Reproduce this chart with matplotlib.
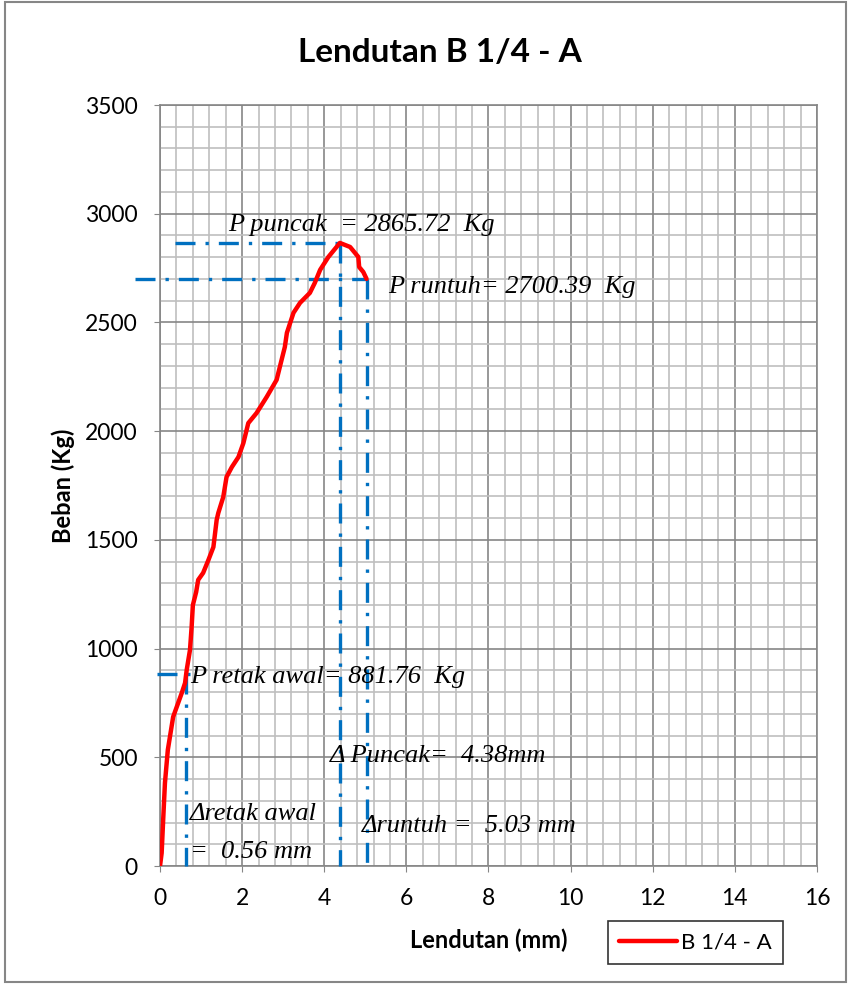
import matplotlib
matplotlib.use("Agg")
import matplotlib.pyplot as plt
from matplotlib.patches import Rectangle
from matplotlib.ticker import MultipleLocator

# data
lendutan = [0.0, 0.04, 0.08, 0.12, 0.19, 0.32, 0.53, 0.61, 0.65, 0.73, 0.77, 0.80, 0.88, 0.93,
            1.05, 1.18, 1.30, 1.38, 1.42, 1.54, 1.62, 1.75, 1.91, 2.03, 2.15, 2.35, 2.60,
            2.84, 2.96, 3.04, 3.09, 3.25, 3.41, 3.65, 3.77, 3.90, 4.10, 4.38, 4.63, 4.83,
            4.85, 4.95, 5.03]
beban = [0, 60, 225, 382, 534, 686, 796, 842, 902, 994, 1100, 1200, 1260, 1316,
         1348, 1408, 1467, 1592, 1624, 1697, 1789, 1835, 1881, 1945, 2037, 2083, 2158,
         2236, 2327, 2387, 2452, 2544, 2590, 2636, 2682, 2742, 2801, 2865.72, 2847, 2801,
         2755, 2732, 2700.39]

p_puncak = 2865.72
p_runtuh = 2700.39
p_retak = 881.76
d_puncak = 4.38
d_runtuh = 5.03
d_retak = 0.56

plt.rcParams['font.family'] = ['Lato', 'DejaVu Sans']

fig = plt.figure(figsize=(8.48, 9.85), dpi=100)
ax = fig.add_axes([0.1887, 0.1208, 0.9634 - 0.1887, 0.8934 - 0.1208])

ax.plot(lendutan, beban, color='red', lw=3.2, solid_capstyle='round',
        solid_joinstyle='round', label='B 1/4 - A', zorder=5)

# garis bantu (dash-dot biru)
biru = '#0070C0'
ds = (0, (6, 3, 1, 3))
kw = dict(color=biru, lw=2.4, linestyle=ds, zorder=4, clip_on=False)
ax.plot([0.37, d_puncak], [p_puncak, p_puncak], **kw)
ax.plot([d_puncak, d_puncak], [p_puncak, 0], **kw)
ax.plot([-0.6, d_runtuh], [p_runtuh, p_runtuh], **kw)
ax.plot([d_runtuh, d_runtuh], [p_runtuh, 0], **kw)
ax.plot([-0.07, 0.72], [p_retak, p_retak], **kw)
ax.plot([0.64, 0.64], [p_retak, 0], **kw)

tf = dict(family=['Liberation Serif', 'DejaVu Serif'], style='italic', fontsize=19, zorder=6)
ax.text(1.66, 2950, f'P puncak  = {p_puncak:.2f}  Kg', va='center', **tf)
ax.text(5.55, 2663, f'P runtuh= {p_runtuh:.2f}  Kg', va='center', **tf)
ax.text(0.73, 869, f'P retak awal= {p_retak:.2f}  Kg', va='center', **tf)
ax.text(4.14, 506, f'Δ Puncak=  {d_puncak:.2f}mm', va='center', **tf)
ax.text(0.73, 239, 'Δretak awal', va='center', **tf)
ax.text(0.73, 64, f'=  {d_retak:.2f} mm', va='center', **tf)
ax.text(4.92, 184, f'Δruntuh =  {d_runtuh:.2f} mm', va='center', **tf)

ax.set_xlim(0, 16)
ax.set_ylim(0, 3500)
ax.xaxis.set_major_locator(MultipleLocator(2))
ax.xaxis.set_minor_locator(MultipleLocator(0.4))
ax.yaxis.set_major_locator(MultipleLocator(500))
ax.yaxis.set_minor_locator(MultipleLocator(100))
ax.grid(which='major', color='#868686', lw=1.2)
ax.grid(which='minor', color='#BFBFBF', lw=1.2)
ax.set_axisbelow(True)
for s in ax.spines.values():
    s.set_color('#868686')
    s.set_linewidth(1.2)
ax.tick_params(which='major', length=4, color='#868686', labelsize=16.5)
ax.tick_params(axis='y', pad=12)
ax.tick_params(axis='x', pad=12)
ax.tick_params(which='minor', length=0)

ax.set_xlabel('Lendutan (mm)', fontsize=17, fontweight='bold', labelpad=14)
ax.set_ylabel('Beban (Kg)', fontsize=17, fontweight='bold', labelpad=7)
fig.text(0.519, 0.947, 'Lendutan B 1/4 - A', ha='center', va='center',
         fontsize=24, fontweight='bold')

leg = ax.legend(loc='center', bbox_to_anchor=(0.815, -0.1005), frameon=True,
                fancybox=False, fontsize=16, handlelength=2.6, handletextpad=0.2,
                borderpad=0.5)
leg.get_frame().set_edgecolor('black')
leg.get_frame().set_linewidth(1.2)

fig.patches.append(Rectangle((5 / 848, 3 / 985), 841 / 848, 980 / 985, transform=fig.transFigure,
                             fill=False, edgecolor='#868686', lw=1.5))

fig.savefig('out.png', dpi=100)
